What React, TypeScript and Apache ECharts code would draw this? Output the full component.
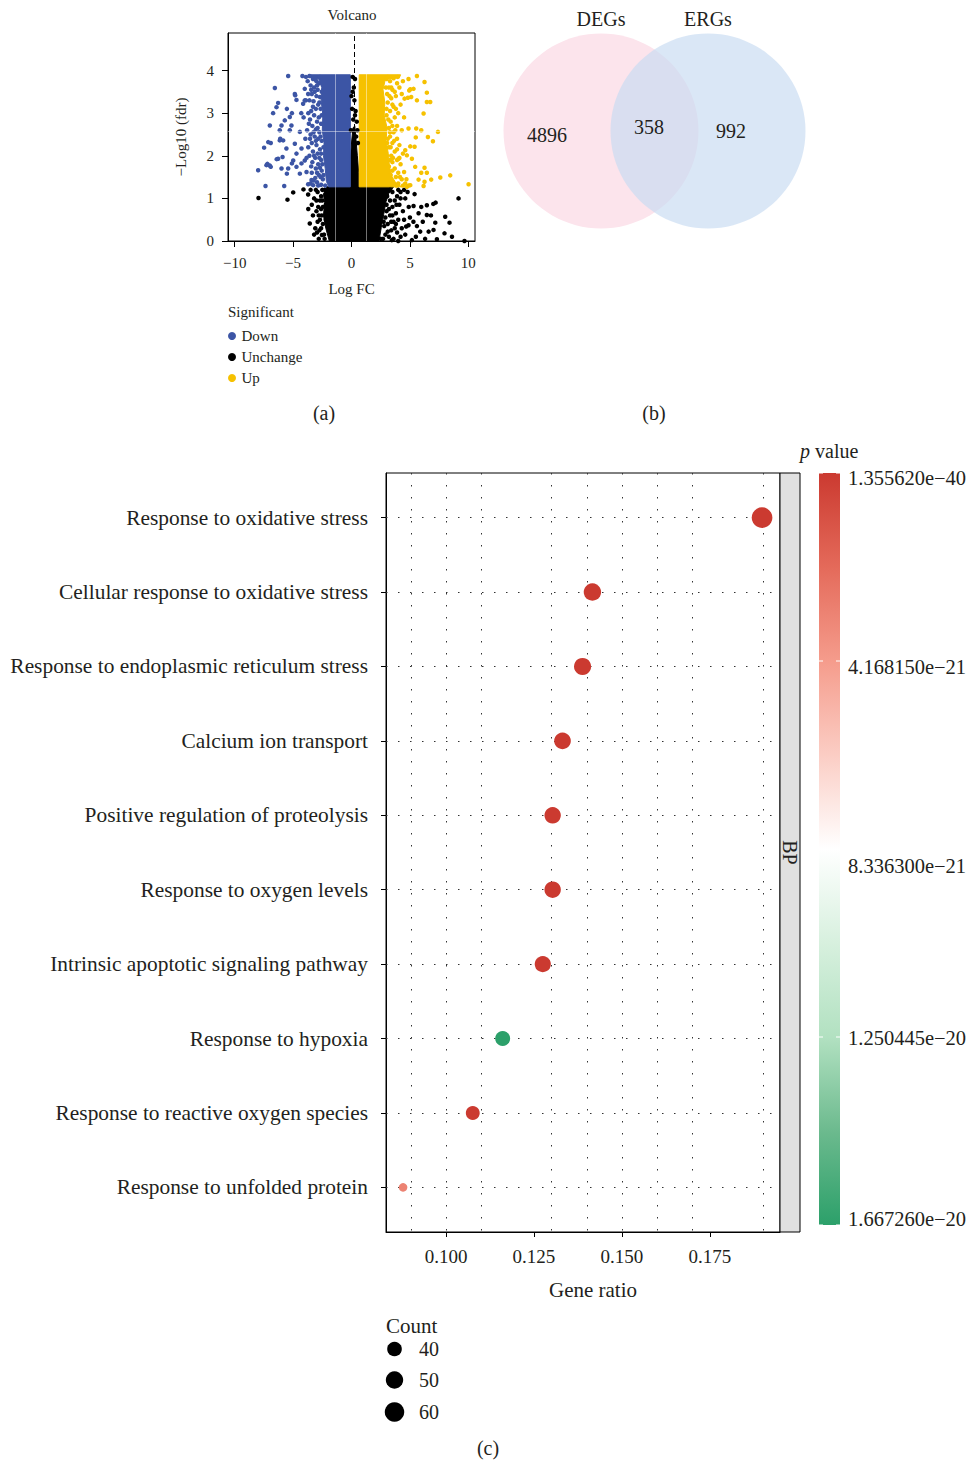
import React, { useEffect, useRef } from 'react';
import * as echarts from 'echarts';

const FONT = "'Liberation Serif', 'Times New Roman', serif";
const TXT = '#231F20';
const DOWN_COLOR = '#3C55A5';
const UP_COLOR = '#F6C100';
const UNCH_COLOR = '#000000';

// ---------- (a) Volcano ----------
const volcanoXTicks = [-10, -5, 0, 5, 10];
const volcanoYTicks = [0, 1, 2, 3, 4];
const volcanoLegend = ['Down', 'Unchange', 'Up'];

// dense (saturated) regions, outlines in data units
const downCore = [[-3.5, 3.9], [-0.1, 3.9], [-0.1, 1.27], [-1.95, 1.27], [-2.15, 1.4], [-2.25, 1.7], [-2.4, 2.0], [-2.35, 2.3], [-2.5, 2.6], [-2.45, 2.95], [-2.6, 3.3], [-2.55, 3.6], [-2.8, 3.8], [-3.5, 3.83]];
const upCore = [[0.66, 3.9], [4.2, 3.9], [4.1, 3.83], [2.9, 3.8], [2.7, 3.55], [2.85, 3.25], [2.8, 2.95], [3.05, 2.65], [2.95, 2.35], [3.15, 2.05], [3.25, 1.75], [3.45, 1.52], [3.8, 1.36], [4.3, 1.27], [0.66, 1.27]];
const unchangeCore = [[-2.1, 1.27], [-0.1, 1.27], [-0.1, 1.9], [0.0, 2.3], [0.12, 2.65], [0.28, 2.7], [0.38, 2.4], [0.5, 2.0], [0.62, 1.6], [0.62, 1.27], [3.6, 1.27], [3.2, 1.12], [2.95, 0.92], [2.75, 0.62], [2.55, 0.32], [2.35, 0.0], [-1.9, 0.0], [-2.2, 0.3], [-2.4, 0.6], [-2.3, 0.9], [-2.4, 1.1]];

// individual genes outside the dense regions
const downPoints = [
  [-5.42, 3.87], [-6.56, 3.59], [-6.28, 3.24], [-6.42, 3.14], [-6.71, 3.0], [-4.85, 3.45], [-4.71, 3.31], [-4.0, 3.57], [-3.71, 3.45], [-4.14, 3.22],
  [-5.28, 2.91], [-5.71, 2.83], [-5.99, 2.71], [-6.99, 2.71], [-6.14, 2.6], [-5.14, 2.71], [-5.28, 2.6], [-4.42, 2.56], [-7.13, 2.32], [-6.91, 2.3],
  [-7.48, 2.19], [-6.14, 2.36], [-5.85, 2.36], [-4.85, 2.28], [-4.28, 2.17], [-5.57, 2.17], [-4.71, 2.05], [-6.28, 1.93], [-4.99, 1.89], [-4.0, 1.89],
  [-5.99, 1.7], [-5.42, 1.7], [-7.99, 1.66], [-7.28, 1.78], [-6.91, 1.74], [-4.71, 1.74], [-4.42, 1.58], [-4.28, 1.82], [-3.85, 1.62], [-7.36, 1.29],
  [-5.76, 1.29], [-3.42, 1.43], [-3.71, 1.33], [-3.28, 1.31], [-5.53, 3.1], [-5.1, 3.0], [-4.82, 3.42], [-6.1, 2.4], [-5.53, 1.58], [-5.1, 1.82],
  [-6.4, 1.92], [-5.9, 1.97], [-7.2, 1.81], [-7.0, 1.77],
  [-3.3, 3.8], [-3.0, 3.75], [-2.8, 3.7], [-3.5, 3.65], [-3.2, 3.6], [-2.9, 3.55], [-3.4, 3.45], [-3.0, 3.4], [-2.7, 3.38], [-3.6, 3.3],
  [-3.25, 3.28], [-2.85, 3.2], [-3.05, 3.1], [-2.65, 3.1], [-3.45, 3.05], [-3.2, 2.95], [-2.8, 2.9], [-3.55, 2.85], [-2.95, 2.8], [-2.6, 2.75],
  [-3.35, 2.7], [-3.05, 2.62], [-2.75, 2.55], [-3.5, 2.5], [-3.15, 2.45], [-2.85, 2.4], [-2.55, 2.35], [-3.4, 2.3], [-3.0, 2.25], [-2.7, 2.15],
  [-3.3, 2.1], [-2.9, 2.05], [-3.6, 2.0], [-3.1, 1.95], [-2.6, 1.9], [-3.35, 1.85], [-2.85, 1.8], [-3.05, 1.7], [-2.55, 1.65], [-3.4, 1.6],
  [-2.8, 1.55], [-3.1, 1.48], [-2.45, 1.45], [-2.95, 1.38], [-2.6, 1.32], [-2.25, 1.3], [-3.75, 3.75], [-3.9, 3.3], [-3.8, 2.6], [-3.7, 2.2],
  [-3.85, 1.95], [-4.1, 2.9], [-3.95, 2.4], [-4.3, 3.0], [-3.9, 3.85], [-4.2, 3.87], [-3.6, 3.87],
  [-2.7, 3.85], [-2.95, 3.65], [-3.15, 3.5], [-2.75, 3.25], [-3.3, 3.15], [-2.55, 2.95], [-2.9, 2.65], [-3.25, 2.55], [-2.65, 2.45], [-3.05, 2.35],
  [-2.6, 2.05], [-3.2, 2.0], [-2.75, 1.95], [-3.45, 1.75], [-2.95, 1.6], [-2.65, 1.5], [-3.25, 1.42], [-2.4, 1.55], [-2.5, 1.8], [-2.7, 1.72],
  [-3.55, 2.4], [-3.65, 2.75], [-3.45, 3.55], [-3.7, 3.0], [-4.0, 3.3], [-3.5, 1.35], [-2.85, 1.3], [-2.4, 2.2], [-2.55, 3.5], [-3.1, 3.8]
];
const upPoints = [
  [5.6, 3.87], [6.25, 3.73], [4.88, 3.8], [5.31, 3.57], [4.94, 3.53], [6.45, 3.48], [4.54, 3.34], [5.11, 3.38], [5.6, 3.3], [6.45, 3.26],
  [6.74, 3.26], [6.17, 2.99], [4.88, 2.64], [5.54, 2.64], [5.97, 2.6], [7.4, 2.56], [6.54, 2.44], [6.97, 2.34], [5.03, 2.22], [5.4, 2.21],
  [4.6, 2.13], [4.74, 2.01], [5.17, 1.93], [4.03, 1.93], [5.45, 1.74], [6.25, 1.72], [5.97, 1.6], [6.45, 1.6], [5.74, 1.44], [6.25, 1.39],
  [6.82, 1.44], [7.6, 1.49], [8.45, 1.54], [10.02, 1.33], [6.17, 1.29], [5.03, 1.31], [4.74, 1.27], [5.03, 3.56], [4.83, 3.36], [5.5, 2.43],
  [3.0, 3.8], [3.3, 3.75], [3.6, 3.82], [3.9, 3.7], [3.2, 3.6], [3.5, 3.55], [4.1, 3.6], [3.05, 3.45], [3.4, 3.35], [3.8, 3.4],
  [3.1, 3.25], [3.6, 3.15], [4.2, 3.2], [3.3, 3.05], [3.0, 2.95], [3.7, 2.9], [4.0, 3.0], [3.35, 2.8], [3.9, 2.7], [3.2, 2.65],
  [3.6, 2.55], [4.3, 2.6], [3.3, 2.45], [3.9, 2.4], [3.5, 2.3], [3.2, 2.2], [4.1, 2.25], [3.7, 2.1], [3.4, 2.0], [4.4, 2.05],
  [3.9, 1.9], [3.5, 1.85], [4.2, 1.8], [3.7, 1.7], [4.0, 1.6], [4.5, 1.62], [3.8, 1.5], [4.3, 1.45], [4.6, 1.35], [4.0, 1.35],
  [3.4, 1.42], [4.9, 1.3], [4.4, 1.3], [3.2, 1.75], [3.1, 2.4], [2.95, 3.6],
  [3.1, 3.85], [3.4, 3.6], [3.7, 3.5], [3.25, 3.4], [3.5, 3.2], [3.0, 3.1], [3.8, 3.1], [3.15, 2.85], [3.5, 2.7], [3.75, 2.6],
  [3.3, 2.55], [3.05, 2.3], [3.65, 2.35], [3.35, 2.2], [3.9, 2.15], [3.55, 1.95], [3.3, 1.9], [4.1, 1.95], [3.5, 1.65], [3.35, 1.55],
  [3.85, 1.3], [3.6, 1.35], [4.15, 1.5], [4.7, 1.45], [3.95, 3.85], [4.4, 3.75], [4.3, 3.45], [4.5, 2.9]
];
const unchangePoints = [
  [-7.96, 1.01], [-5.48, 0.97], [-4.99, 1.14], [-4.11, 1.21], [-3.57, 0.41], [-3.71, 1.09], [-3.2, 1.0], [-2.85, 0.8], [-2.53, 0.14], [-3.0, 0.7],
  [-3.3, 0.6], [-2.9, 1.15], [-3.1, 0.3], [-2.7, 0.5], [-2.6, 1.05], [-3.4, 0.85], [-2.75, 0.25], [-2.6, 0.75], [-2.8, 0.05], [-2.9, 0.45],
  [-3.5, 1.2], [-3.05, 1.2], [-2.5, 0.95], [-2.45, 0.4], [-3.2, 0.15], [-3.7, 0.75], [-2.3, 1.2], [-2.55, 0.6], [-2.35, 0.15],
  [-2.5, 1.2], [-2.7, 0.95], [-2.45, 0.8], [-2.6, 0.3], [-2.3, 0.05], [-2.8, 0.6], [-3.0, 0.95], [-2.95, 0.2], [-2.2, 0.5], [-2.2, 0.85],
  [9.16, 1.0], [8.39, 0.43], [7.96, 0.18], [8.6, 0.1], [7.31, 0.04], [9.67, 0.0], [7.02, 0.26], [6.45, 0.84], [7.0, 0.87], [7.2, 0.9],
  [5.74, 0.65], [5.17, 0.02], [5.97, 0.8], [5.31, 0.82], [6.45, 0.61], [7.17, 0.43], [8.02, 0.57], [6.6, 0.22], [5.88, 0.22], [5.51, 0.1],
  [4.88, 0.37], [4.68, 0.34], [4.5, 1.2], [4.2, 1.15], [3.9, 1.05], [4.6, 1.0], [3.7, 0.95], [4.1, 0.85], [3.5, 0.8], [4.4, 0.7],
  [3.8, 0.65], [3.3, 0.6], [4.0, 0.5], [3.6, 0.45], [3.1, 0.4], [4.3, 0.3], [3.4, 0.25], [3.9, 0.2], [2.9, 0.15], [3.2, 0.1],
  [4.6, 0.15], [3.6, 0.05], [4.0, 0.0], [3.0, 0.7], [3.3, 0.95], [3.5, 1.15], [5.0, 0.55], [5.3, 0.45], [4.9, 0.8], [5.6, 0.35],
  [6.1, 0.45], [6.3, 0.05], [6.8, 0.6], [5.4, 1.1], [4.8, 1.15], [3.05, 1.05], [2.8, 0.35], [2.7, 0.05],
  [2.6, 1.15], [2.8, 1.0], [3.0, 0.85], [2.9, 0.55], [3.2, 0.75], [3.4, 0.45], [3.7, 0.3], [3.1, 0.22], [2.75, 0.45], [3.5, 0.6],
  [3.85, 0.85], [4.2, 1.0], [4.0, 1.2], [3.8, 0.4], [4.5, 0.5], [4.2, 0.1], [3.45, 0.02], [2.5, 0.05], [2.6, 0.7], [3.3, 1.2],
  [0.1, 3.5], [0.25, 3.3], [0.05, 3.1], [0.3, 2.95], [0.45, 2.8], [0.15, 2.85], [0.5, 2.6], [-0.05, 2.6], [0.35, 3.05], [0.2, 3.6],
  [0.4, 2.45], [0.55, 2.3], [0.0, 3.4], [0.3, 3.8], [0.1, 3.85]
];
const volcanoCutX = 0.22;

// ---------- (b) Venn ----------
const vennSets = ['DEGs', 'ERGs'];
const vennCounts = [4896, 358, 992]; // DEGs only, both, ERGs only

// ---------- (c) GO BP dot plot ----------
const goTerms = [
  'Response to oxidative stress',
  'Cellular response to oxidative stress',
  'Response to endoplasmic reticulum stress',
  'Calcium ion transport',
  'Positive regulation of proteolysis',
  'Response to oxygen levels',
  'Intrinsic apoptotic signaling pathway',
  'Response to hypoxia',
  'Response to reactive oxygen species',
  'Response to unfolded protein'
];
const geneRatio = [0.1898, 0.1416, 0.1388, 0.1331, 0.1303, 0.1303, 0.1275, 0.1161, 0.1076, 0.0878];
const geneCount = [67, 50, 49, 47, 46, 46, 45, 41, 38, 31];
const pValue = [1.35562e-40, 2.4e-30, 5.1e-29, 3.3e-27, 8.2e-28, 6.5e-27, 1.9e-26, 1.66726e-20, 4.2e-25, 3.1e-21];
const ratioTicks = [0.1, 0.125, 0.15, 0.175];
const ratioGrid = [0.0875, 0.1, 0.1125, 0.125, 0.1375, 0.15, 0.1625, 0.175, 0.1875];
const pBreaks = [1.35562e-40, 4.16815e-21, 8.3363e-21, 1.250445e-20, 1.66726e-20];
const countLegend = [40, 50, 60];
const facetLabel = 'BP';

const pColors = ['#CB3A30', '#E46A5A', '#F59C8C', '#FBCDC4', '#FFFFFF', '#D7F0DE', '#B2E1C1', '#6CBA8E', '#2CA06A'];
// vertical nudge of the colour-bar labels relative to their ticks (layout only)
const pLabelNudge = [5, 6, 17, 1, -6];

const cMin = Math.min(...geneCount);
const cMax = Math.max(...geneCount);
const sizeOf = (c: number) => 8.6 + 12.1 * Math.sqrt(Math.max(0, (c - cMin) / (cMax - cMin)));

const minus = (s: string) => s.replace(/-/g, '\u2212');

function polygonSeries(name: string, verts: number[][], color: string) {
  return {
    type: 'custom',
    name,
    coordinateSystem: 'cartesian2d',
    xAxisIndex: 0,
    yAxisIndex: 0,
    silent: true,
    z: 2,
    encode: { x: 0, y: 1 },
    data: verts,
    renderItem: (params: any, api: any) => {
      if (params.dataIndex !== 0) return null;
      return {
        type: 'polygon',
        shape: { points: verts.map((v) => api.coord(v)) },
        style: { fill: color, stroke: color, lineWidth: 1 }
      };
    }
  };
}

function pointSeries(name: string, pts: number[][], color: string) {
  return {
    type: 'scatter',
    name,
    xAxisIndex: 0,
    yAxisIndex: 0,
    symbol: 'circle',
    symbolSize: 4.5,
    itemStyle: { color, opacity: 1 },
    silent: true,
    z: 3,
    data: pts
  };
}

function buildOption() {
  const CB = { x: 819, y: 473, w: 21, h: 752 };
  const pMin = pBreaks[0];
  const pMax = pBreaks[pBreaks.length - 1];
  const cbY = (v: number) => CB.y + ((v - pMin) / (pMax - pMin)) * CB.h;

  const graphics: any[] = [];
  const txt = (text: string, x: number, y: number, size: number, align = 'center', extra: any = {}) => ({
    type: 'text',
    x,
    y,
    silent: true,
    style: {
      text,
      fontSize: size,
      fontFamily: FONT,
      fill: TXT,
      align,
      textAlign: align,
      verticalAlign: 'middle',
      textVerticalAlign: 'middle',
      ...extra
    }
  });

  // volcano legend title
  graphics.push(txt('Significant', 228, 312, 15, 'left'));

  // Venn
  graphics.push({ type: 'circle', silent: true, shape: { cx: 601, cy: 131, r: 97.5 }, style: { fill: '#FCE4EC' } });
  graphics.push({ type: 'circle', silent: true, shape: { cx: 708, cy: 131, r: 97.5 }, style: { fill: 'rgba(200,219,242,0.67)' } });
  graphics.push(txt(vennSets[0], 601, 19, 20));
  graphics.push(txt(vennSets[1], 708, 19, 20));
  graphics.push(txt(String(vennCounts[0]), 547, 135, 20));
  graphics.push(txt(String(vennCounts[1]), 649, 127, 20));
  graphics.push(txt(String(vennCounts[2]), 731, 131, 20));

  // panel labels
  graphics.push(txt('(a)', 324, 413, 20));
  graphics.push(txt('(b)', 654, 413, 20));
  graphics.push(txt('(c)', 488, 1448, 20));

  // facet strip
  graphics.push({ type: 'rect', silent: true, shape: { x: 780, y: 473, width: 20, height: 759 }, style: { fill: '#E0E0E0', stroke: '#000', lineWidth: 1 } });
  graphics.push({ ...txt(facetLabel, 0, 0, 20), x: 790, y: 852.5, rotation: -Math.PI / 2 });

  // colour bar
  graphics.push({
    type: 'rect',
    silent: true,
    shape: { x: CB.x, y: CB.y, width: CB.w, height: CB.h },
    style: {
      fill: new echarts.graphic.LinearGradient(0, 0, 0, 1, pColors.map((c, i) => ({ offset: i / (pColors.length - 1), color: c })))
    }
  });
  pBreaks.forEach((b, i) => {
    const y = cbY(b);
    graphics.push({ type: 'line', silent: true, shape: { x1: CB.x, y1: y, x2: CB.x + 4, y2: y }, style: { stroke: '#fff', lineWidth: 1 } });
    graphics.push({ type: 'line', silent: true, shape: { x1: CB.x + CB.w - 4, y1: y, x2: CB.x + CB.w, y2: y }, style: { stroke: '#fff', lineWidth: 1 } });
    graphics.push(txt(minus(b.toExponential(6)), 848, y + pLabelNudge[i], 20.5, 'left'));
  });
  graphics.push({
    type: 'text',
    x: 800,
    y: 451,
    silent: true,
    style: {
      text: '{i|p} value',
      fontSize: 20,
      fontFamily: FONT,
      fill: TXT,
      align: 'left',
      verticalAlign: 'middle',
      rich: { i: { fontStyle: 'italic', fontSize: 20, fontFamily: FONT, fill: TXT } }
    }
  });

  // size legend
  graphics.push(txt('Count', 386, 1326, 21, 'left'));
  const legY = [1349, 1380, 1412];
  countLegend.forEach((c, i) => {
    graphics.push({ type: 'circle', silent: true, shape: { cx: 394.5, cy: legY[i], r: sizeOf(c) / 2 }, style: { fill: '#000' } });
    graphics.push(txt(String(c), 419, legY[i], 20, 'left'));
  });

  const dotData = goTerms.map((_, i) => [geneRatio[i], i, pValue[i], geneCount[i]]);

  const series: any[] = [
    polygonSeries('Unchange', unchangeCore, UNCH_COLOR),
    pointSeries('Unchange', unchangePoints, UNCH_COLOR),
    polygonSeries('Down', downCore, DOWN_COLOR),
    pointSeries('Down', downPoints, DOWN_COLOR),
    polygonSeries('Up', upCore, UP_COLOR),
    pointSeries('Up', upPoints, UP_COLOR),
    {
      type: 'scatter',
      name: 'volcano-guides',
      xAxisIndex: 0,
      yAxisIndex: 0,
      data: [],
      z: 6,
      silent: true,
      markLine: {
        silent: true,
        symbol: ['none', 'none'],
        label: { show: false },
        animation: false,
        data: [
          { xAxis: -1.35, lineStyle: { color: 'rgba(255,255,255,0.45)', width: 1, type: 'solid' } },
          { xAxis: 1.3, lineStyle: { color: 'rgba(255,255,255,0.45)', width: 1, type: 'solid' } },
          { yAxis: 2.57, lineStyle: { color: 'rgba(255,255,255,0.45)', width: 1, type: 'solid' } },
          { xAxis: volcanoCutX, lineStyle: { color: '#000', width: 1, type: [5, 3] } }
        ]
      }
    },
    {
      type: 'scatter',
      name: 'go-grid',
      xAxisIndex: 1,
      yAxisIndex: 1,
      data: [],
      z: 1,
      silent: true,
      markLine: {
        silent: true,
        symbol: ['none', 'none'],
        label: { show: false },
        animation: false,
        lineStyle: { color: '#333', width: 1, type: [1.5, 10.5] },
        data: [...ratioGrid.map((v) => ({ xAxis: v })), ...goTerms.map((_, i) => ({ yAxis: i }))]
      }
    },
    {
      type: 'scatter',
      name: 'GO BP',
      xAxisIndex: 1,
      yAxisIndex: 1,
      symbol: 'circle',
      symbolSize: (v: number[]) => sizeOf(v[3]),
      itemStyle: { opacity: 1 },
      z: 5,
      silent: true,
      data: dotData
    }
  ];

  return {
    animation: false,
    backgroundColor: '#fff',
    textStyle: { fontFamily: FONT, color: TXT },
    title: [
      { text: 'Volcano', left: 352, top: 7.5, padding: 0, textAlign: 'center', textStyle: { fontSize: 15, fontWeight: 'normal', color: TXT, fontFamily: FONT } }
    ],
    legend: {
      orient: 'vertical',
      left: 228,
      top: 328.5,
      padding: 0,
      itemWidth: 9,
      itemHeight: 8,
      itemGap: 6,
      selectedMode: false,
      textStyle: { fontSize: 15, color: TXT, fontFamily: FONT, lineHeight: 15 },
      data: [
        { name: volcanoLegend[0], icon: 'circle', itemStyle: { color: DOWN_COLOR } },
        { name: volcanoLegend[1], icon: 'circle', itemStyle: { color: UNCH_COLOR } },
        { name: volcanoLegend[2], icon: 'circle', itemStyle: { color: UP_COLOR } }
      ]
    },
    grid: [
      { left: 228, top: 33, width: 247, height: 208, show: true, borderColor: '#000', borderWidth: 1, backgroundColor: 'transparent', containLabel: false, outerBoundsMode: 'none' },
      { left: 386, top: 473, width: 394, height: 759, show: true, borderColor: '#000', borderWidth: 1, backgroundColor: 'transparent', containLabel: false, outerBoundsMode: 'none' }
    ],
    xAxis: [
      {
        gridIndex: 0,
        type: 'value',
        min: -10.57,
        max: 10.57,
        axisLine: { show: true, onZero: false, lineStyle: { color: '#000', width: 1 } },
        axisTick: { show: true, length: 6, customValues: volcanoXTicks, lineStyle: { color: '#000' } },
        axisLabel: { customValues: volcanoXTicks, formatter: (v: number) => minus(String(v)), fontSize: 15, color: TXT, margin: 14, fontFamily: FONT },
        splitLine: { show: false },
        name: 'Log FC',
        nameLocation: 'middle',
        nameGap: 40,
        nameTextStyle: { fontSize: 15, color: TXT, fontFamily: FONT }
      },
      {
        gridIndex: 1,
        type: 'value',
        min: 0.08295,
        max: 0.1949,
        axisLine: { show: true, onZero: false, lineStyle: { color: '#000', width: 1 } },
        axisTick: { show: true, length: 5, customValues: ratioTicks, lineStyle: { color: '#000' } },
        axisLabel: { customValues: ratioTicks, formatter: (v: number) => v.toFixed(3), fontSize: 19, color: TXT, margin: 15, fontFamily: FONT },
        splitLine: { show: false },
        name: 'Gene ratio',
        nameLocation: 'middle',
        nameGap: 47,
        nameTextStyle: { fontSize: 21, color: TXT, fontFamily: FONT, padding: [0, 0, 0, 20] }
      }
    ],
    yAxis: [
      {
        gridIndex: 0,
        type: 'value',
        min: 0,
        max: 4.88,
        axisLine: { show: true, onZero: false, lineStyle: { color: '#000', width: 1 } },
        axisTick: { show: true, length: 6, customValues: volcanoYTicks, lineStyle: { color: '#000' } },
        axisLabel: { customValues: volcanoYTicks, fontSize: 15, color: TXT, margin: 14, fontFamily: FONT },
        splitLine: { show: false },
        name: '\u2212Log10 (fdr)',
        nameLocation: 'middle',
        nameRotate: 90,
        nameGap: 40,
        nameTextStyle: { fontSize: 15, color: TXT, fontFamily: FONT }
      },
      {
        gridIndex: 1,
        type: 'value',
        inverse: true,
        min: -0.6,
        max: 9.6,
        axisLine: { show: true, onZero: false, lineStyle: { color: '#000', width: 1 } },
        axisTick: { show: true, length: 5, customValues: goTerms.map((_, i) => i), lineStyle: { color: '#000' } },
        axisLabel: {
          customValues: goTerms.map((_, i) => i),
          formatter: (v: number) => goTerms[Math.round(v)] ?? '',
          fontSize: 21.4,
          color: TXT,
          margin: 18,
          fontFamily: FONT
        },
        splitLine: { show: false }
      }
    ],
    visualMap: [
      {
        type: 'continuous',
        show: false,
        seriesIndex: 8,
        dimension: 2,
        min: pMin,
        max: pMax,
        inRange: { color: pColors }
      }
    ],
    graphic: { elements: graphics },
    series
  };
}

export default function App() {
  const ref = useRef<HTMLDivElement>(null);
  useEffect(() => {
    if (!ref.current) return;
    const chart = echarts.init(ref.current, null, { renderer: 'svg' });
    chart.setOption(buildOption() as any);
    return () => chart.dispose();
  }, []);
  return (
    <div
      ref={ref}
      style={{ position: 'absolute', left: 0, top: 0, width: 969, height: 1461, background: '#fff' }}
    />
  );
}
